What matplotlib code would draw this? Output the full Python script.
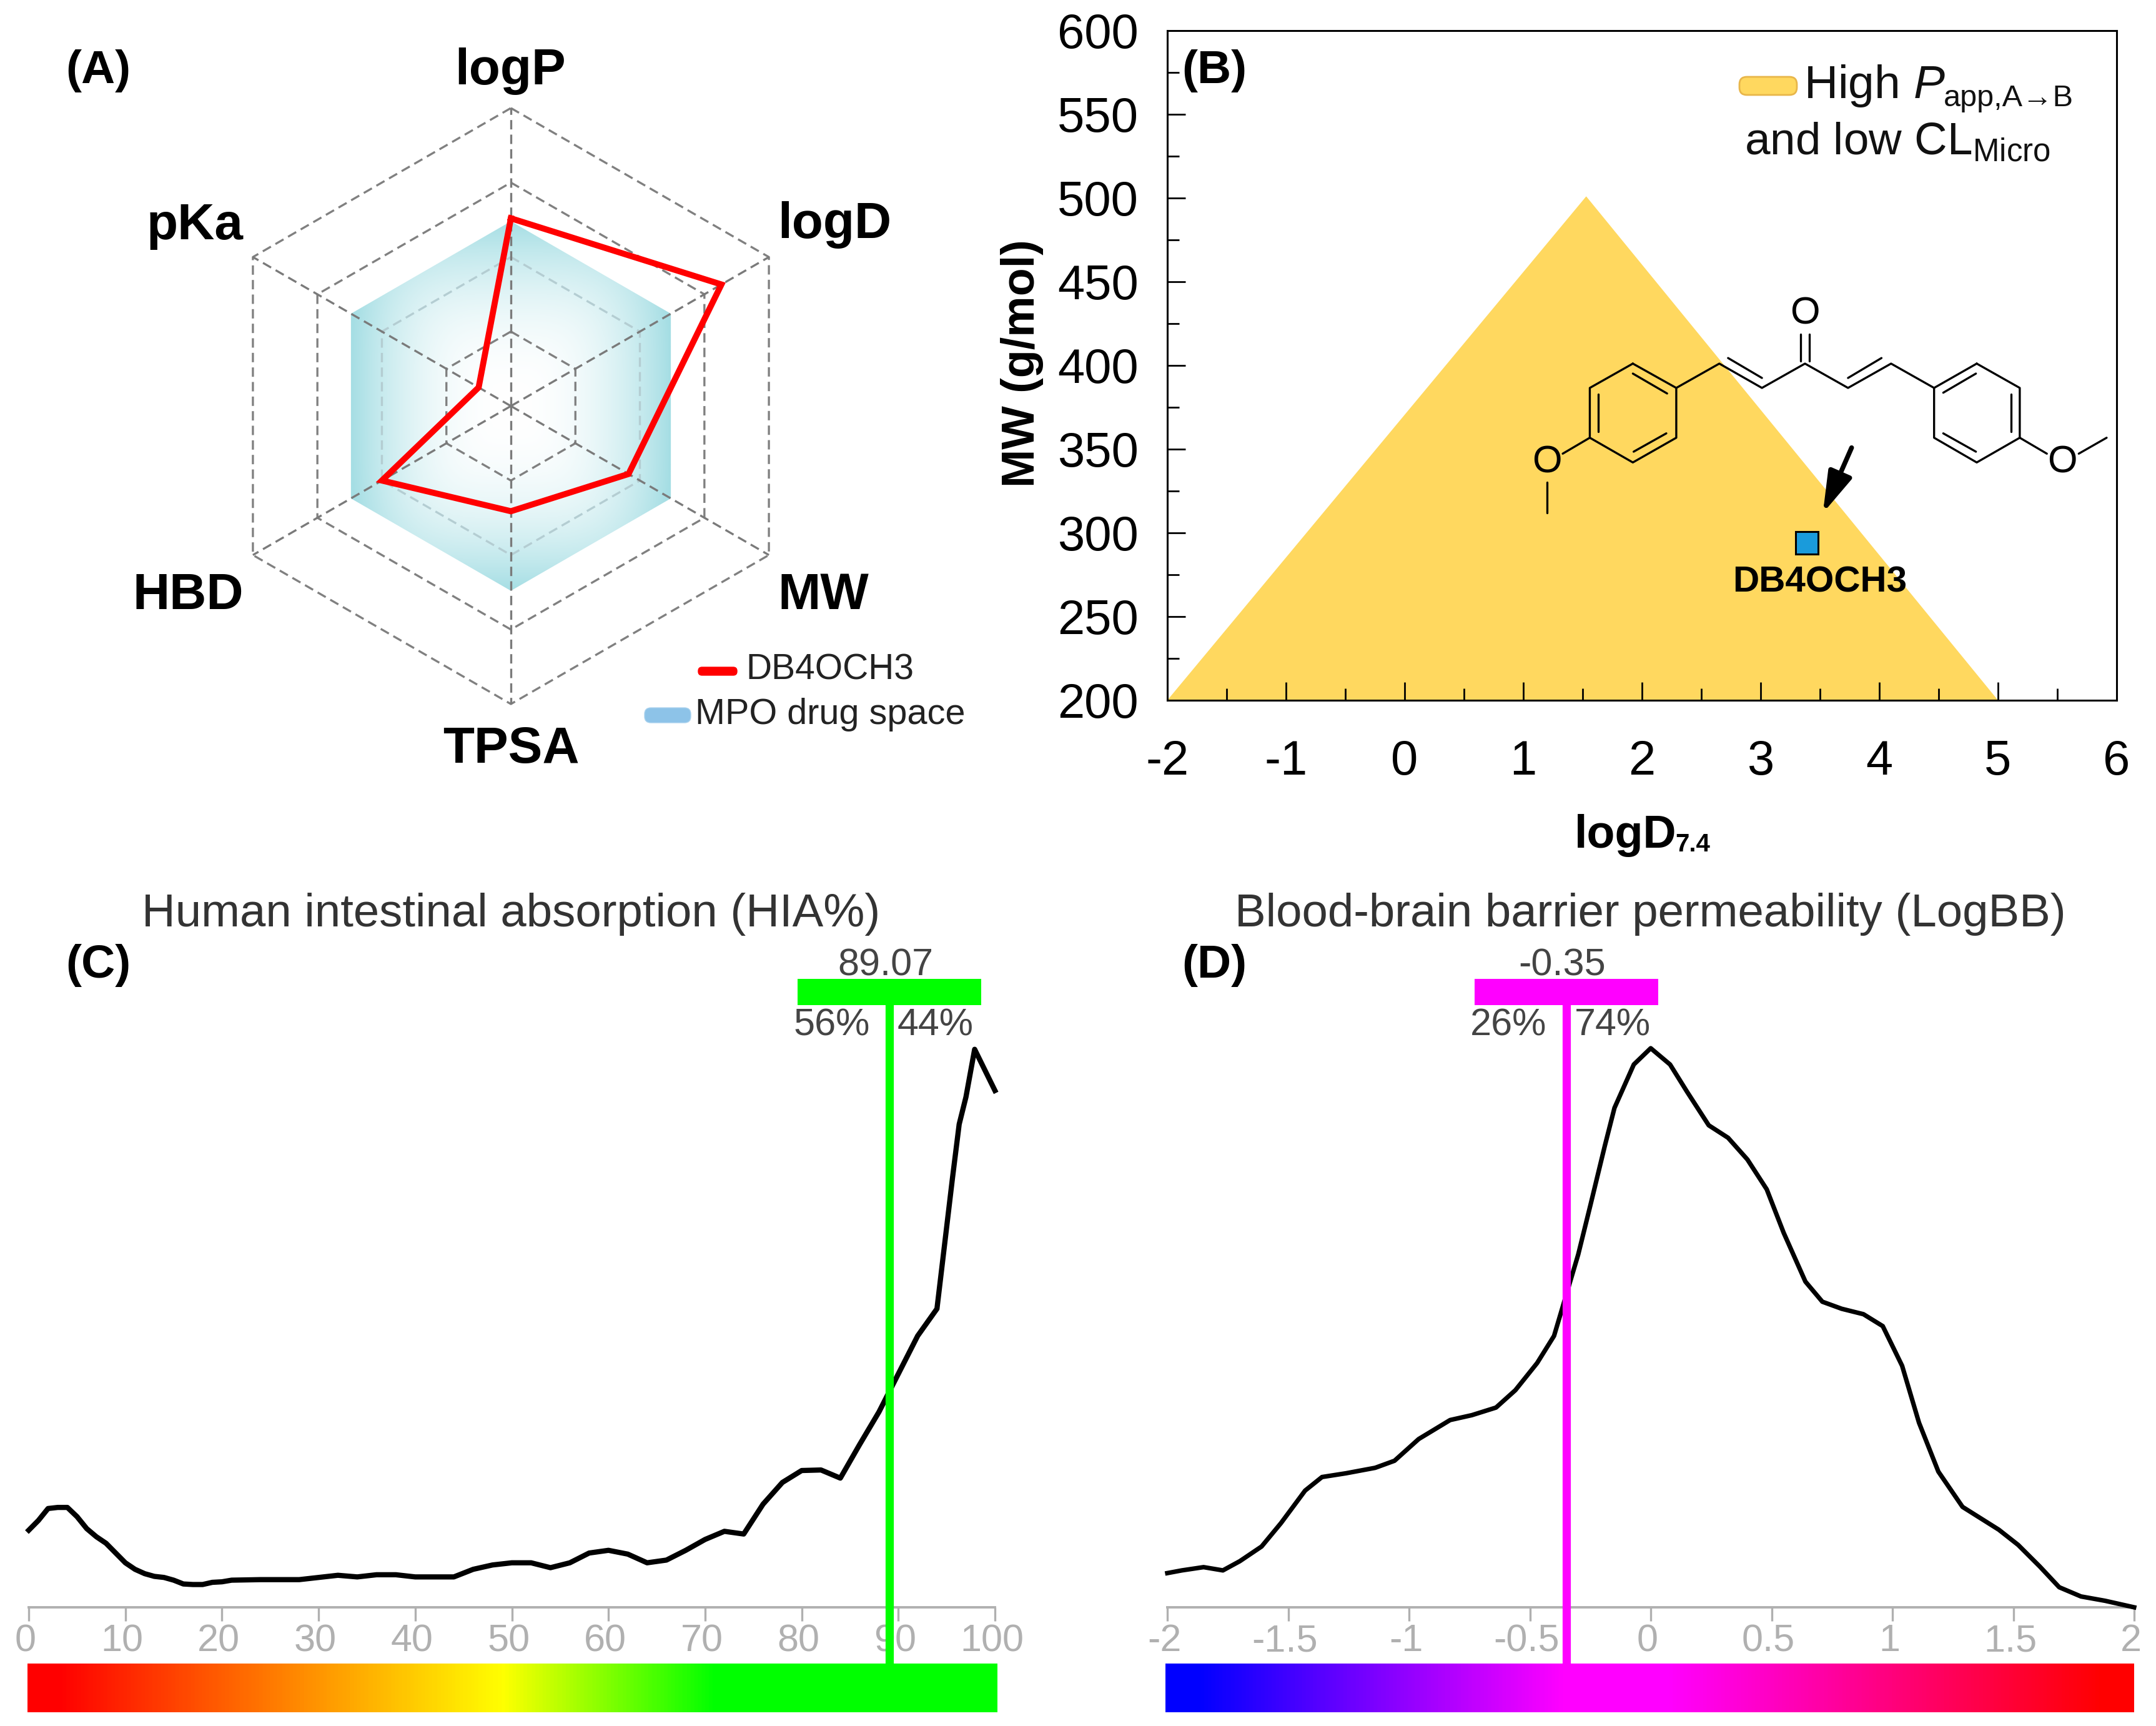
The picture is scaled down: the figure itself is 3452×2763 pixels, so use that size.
import numpy as np
import matplotlib
matplotlib.use('Agg')
import matplotlib.pyplot as plt
from matplotlib.colors import LinearSegmentedColormap
from matplotlib.patches import Polygon, FancyBboxPatch, Rectangle
from matplotlib.transforms import blended_transform_factory, ScaledTranslation

plt.rcParams['font.family'] = ['Liberation Sans', 'DejaVu Sans']
plt.rcParams['mathtext.fontset'] = 'custom'
plt.rcParams['mathtext.rm'] = 'Liberation Sans'
plt.rcParams['mathtext.it'] = 'Liberation Sans:italic'
plt.rcParams['mathtext.bf'] = 'Liberation Sans:bold'
plt.rcParams['axes.unicode_minus'] = False

W, H = 3452, 2763

# (A) radar
radar_labels = ['logP', 'logD', 'MW', 'TPSA', 'HBD', 'pKa']
radar_rings = [0.25, 0.5, 0.75, 1.0]
db4och3_values = [0.63, 0.816, 0.456, 0.353, 0.5, 0.125]
mpo_space_values = [0.62, 0.62, 0.62, 0.62, 0.62, 0.62]

# (B) permeability / clearance space
space_logd = [-2, 1.53, 5]
space_mw = [200, 501, 200]
compound_logd = 3.39
compound_mw = 294

# (C) HIA%
hia_x = [0, 1, 2, 3, 4, 5, 6, 7, 8, 9, 10, 11, 12, 13, 14, 15, 16, 17, 18, 19, 20, 21, 24, 28, 30,
         32, 34, 36, 38, 40, 44, 46, 48, 50, 52, 54, 56, 58, 60, 62, 64, 66, 68, 70, 72, 74, 76,
         78, 80, 82, 84, 86, 88, 90, 92, 94, 94.4, 95.6, 96.3, 97, 97.9, 100]
hia_y = [14.2, 16, 18.2, 18.4, 18.4, 16.7, 14.5, 13, 11.8, 10, 8.2, 7, 6.2, 5.7, 5.5, 5, 4.3, 4.2,
         4.2, 4.6, 4.7, 5, 5.1, 5.1, 5.5, 5.9, 5.6, 6, 6, 5.6, 5.6, 7, 7.8, 8.2, 8.2, 7.3, 8.2, 10,
         10.5, 9.8, 8.2, 8.7, 10.5, 12.5, 14, 13.5, 19, 23, 25.2, 25.3, 23.8, 30, 36, 43, 50, 55,
         61, 79, 89, 94, 102.8, 95.2]
hia_ticks = [0, 10, 20, 30, 40, 50, 60, 70, 80, 90, 100]
hia_value = 89.07
hia_split = ['56%', '44%']
hia_stops = [(0.0, '#ff0000'), (0.03, '#ff0000'), (0.49, '#ffff00'), (0.71, '#00ff00'), (1.0, '#00ff00')]

# (D) LogBB
bbb_x = [-2.0, -1.94, -1.85, -1.77, -1.70, -1.61, -1.53, -1.43, -1.36, -1.26, -1.14, -1.06, -0.96,
         -0.83, -0.74, -0.64, -0.56, -0.47, -0.40, -0.36, -0.30, -0.25, -0.19, -0.15, -0.07, 0.0,
         0.08, 0.15, 0.24, 0.32, 0.40, 0.48, 0.55, 0.64, 0.71, 0.79, 0.88, 0.96, 1.04, 1.11, 1.19,
         1.29, 1.44, 1.52, 1.61, 1.69, 1.78, 1.88, 2.0]
bbb_y = [6.3, 6.8, 7.4, 6.8, 8.5, 11.2, 15.5, 21.5, 24, 24.7, 25.7, 27, 31, 34.5, 35.4, 36.8, 40,
         45, 50, 56, 65, 74, 85, 92, 100, 103, 100, 95, 88.8, 86.5, 82.5, 77, 69, 60, 56.3, 55, 54,
         51.8, 44.5, 34, 25, 18.5, 14.3, 11.5, 7.5, 3.7, 2, 1.2, 0]
bbb_ticks = [-2, -1.5, -1, -0.5, 0, 0.5, 1, 1.5, 2]
bbb_ticklabels = ['-2', '-1.5', '-1', '-0.5', '0', '0.5', '1', '1.5', '2']
bbb_value = -0.35
bbb_split = ['26%', '74%']
bbb_stops = [(0.0, '#0000ff'), (0.03, '#0000ff'), (0.41, '#ff00ff'), (0.52, '#ff00ff'), (0.97, '#ff0000'), (1.0, '#ff0000')]

# molecule sketch, in zoomed picture units (see mol_xy)
mol_bonds = [
    [(336, 207), (445, 268), (445, 393), (336, 455), (228, 393), (228, 268), (336, 207)],
    [(336, 232), (422, 282)], [(338, 428), (420, 382)], [(249, 283), (249, 378)],
    [(445, 268), (553, 207), (660, 268), (768, 207), (876, 268), (984, 207), (1092, 268)],
    [(575, 193), (660, 243)], [(876, 243), (960, 193)],
    [(757, 200), (757, 133)], [(779, 200), (779, 133)],
    [(1199, 207), (1307, 268), (1307, 393), (1199, 455), (1092, 393), (1092, 268), (1199, 207)],
    [(1115, 280), (1197, 232)], [(1115, 382), (1197, 428)], [(1285, 283), (1285, 378)],
    [(228, 393), (160, 433)], [(120, 505), (120, 581)],
    [(1307, 393), (1375, 433)], [(1455, 433), (1525, 393)],
]
mol_oxygens = [(768, 83), (120, 456), (1413, 456)]


def px_axes(fig, x0, y0, x1, y1, **kw):
    return fig.add_axes([x0 / W, 1 - y1 / H, (x1 - x0) / W, (y1 - y0) / H], **kw)


def mol_xy(p):
    return 2400 + 0.638 * p[0], 450 + 0.638 * p[1]


fig = plt.figure(figsize=(W / 100, H / 100), dpi=100, facecolor='white')

ov = fig.add_axes([0, 0, 1, 1], zorder=10)
ov.set_xlim(0, W)
ov.set_ylim(H, 0)
ov.axis('off')
ov.patch.set_alpha(0)

# ---- panel A
cx, cy, rad = 818, 650, 477
ax_a = px_axes(fig, cx - 500, cy - 500, cx + 500, cy + 500)
ax_a.axis('off')
theta = np.deg2rad(np.arange(6) * 60)


def radar_xy(vals):
    vals = np.asarray(vals, dtype=float)
    xs = vals * np.sin(theta)
    ys = vals * np.cos(theta)
    return np.append(xs, xs[0]), np.append(ys, ys[0])


mx, my = radar_xy(mpo_space_values)
gx, gy = np.meshgrid(np.linspace(-0.66, 0.66, 500), np.linspace(-0.66, 0.66, 500))
xmax = max(mx)
ymax = max(my)
t = (np.abs(gx / xmax) ** 4 + np.abs(gy / ymax) ** 4) ** 0.25
t = np.clip(t, 0, 1) ** 2.2
teal = np.array([165, 222, 228]) / 255
rgb = 1 + t[..., None] * (teal - 1)
im = ax_a.imshow(rgb, extent=[-0.66, 0.66, -0.66, 0.66], origin='lower', zorder=1)
clip = Polygon(np.column_stack([mx, my]), transform=ax_a.transData, facecolor='none', edgecolor='none')
ax_a.add_patch(clip)
im.set_clip_path(clip)
ax_a.set_aspect('equal')
ax_a.set_xlim(-500 / rad, 500 / rad)
ax_a.set_ylim(-500 / rad, 500 / rad)

for ring in radar_rings:
    rx, ry = radar_xy([ring] * 6)
    col = '#b4cdd2' if ring == 0.5 else '#808080'
    ax_a.plot(rx, ry, color=col, lw=2.4, ls=(0, (4.5, 2.5)), zorder=2)
for th in theta:
    ax_a.plot([0, np.sin(th)], [0, np.cos(th)], color='#7a7a7a', lw=2.4, ls=(0, (4.5, 2.5)), zorder=2)
rx, ry = radar_xy(db4och3_values)
ax_a.plot(rx, ry, color='#ff0000', lw=7, solid_joinstyle='miter', zorder=3)

radar_pos = [(817, 114, 'center'), (1245, 360, 'left'), (1245, 954, 'left'),
             (818, 1200, 'center'), (390, 954, 'right'), (390, 362, 'right')]
for lab, (x, y, ha) in zip(radar_labels, radar_pos):
    ov.text(x, y, lab, fontsize=59, fontweight='bold', ha=ha, va='center')

ov.add_patch(FancyBboxPatch((1118, 1068), 62, 13, boxstyle='round,pad=0,rounding_size=6',
                            facecolor='#ff0000', edgecolor='#ff0000', lw=1))
ov.text(1194, 1073, 'DB4OCH3', fontsize=41, ha='left', va='center', color='#222222')
ov.add_patch(FancyBboxPatch((1032, 1133), 74, 24, boxstyle='round,pad=0,rounding_size=10',
                            facecolor='#8dc3e8', edgecolor='#a9d2ee', lw=1))
ov.text(1113, 1144, 'MPO drug space', fontsize=41.5, ha='left', va='center', color='#222222')

# ---- panel B
ax_b = px_axes(fig, 1869, 49, 3389, 1121)
ax_b.fill(space_logd, space_mw, color='#ffd85f', lw=0, zorder=1)
ax_b.plot([compound_logd], [compound_mw], marker='s', ms=26, mfc='#1a9bdb', mec='black', mew=2.2, zorder=4)
ax_b.set_xlim(-2, 6)
ax_b.set_ylim(200, 600)
ax_b.set_xticks(np.arange(-2, 7, 1))
ax_b.set_xticks(np.arange(-2, 6.5, 0.5), minor=True)
ax_b.set_yticks(np.arange(200, 601, 50))
ax_b.set_yticks(np.arange(200, 601, 25), minor=True)
ax_b.tick_params(axis='both', which='major', direction='in', length=21, width=2, labelsize=56, top=False, right=False)
ax_b.tick_params(axis='both', which='minor', direction='in', length=14, width=2, top=False, right=False)
ax_b.tick_params(axis='x', which='major', pad=45)
ax_b.tick_params(axis='y', which='major', pad=33)
for sp in ax_b.spines.values():
    sp.set_linewidth(2.2)
    sp.set_zorder(5)

ov.text(1636, 582, 'MW (g/mol)', fontsize=53, fontweight='bold', rotation=90, ha='center', va='center')
ov.text(2521, 1338, 'logD', fontsize=53, fontweight='bold', ha='left', va='center')
ov.text(2682, 1352, '7.4', fontsize=29, fontweight='bold', ha='left', va='center')
ov.add_patch(FancyBboxPatch((2785, 123), 92, 29, boxstyle='round,pad=0,rounding_size=12',
                            facecolor='#ffd85f', edgecolor='#e8b64a', lw=2))
ov.text(2888, 138, r'High $\mathit{P}$', fontsize=54, ha='left', va='center', color='#111111')
ov.text(3112, 157, 'app,A→B', fontsize=35, ha='left', va='center', color='#111111')
ov.text(2793, 228, r'and low CL$_{\mathrm{Micro}}$', fontsize=52.5, ha='left', va='center', color='#111111')
ov.text(2914, 932, 'DB4OCH3', fontsize=42, fontweight='bold', ha='center', va='center')

for seg in mol_bonds:
    pts = np.array([mol_xy(p) for p in seg])
    ov.plot(pts[:, 0], pts[:, 1], color='black', lw=2.4, solid_capstyle='round')
for p in mol_oxygens:
    ox, oy = mol_xy(p)
    ov.text(ox, oy, 'O', fontsize=44, ha='center', va='center', color='black')
ov.annotate('', xy=mol_xy((813, 582)), xytext=mol_xy((885, 418)),
            arrowprops=dict(arrowstyle='-|>,head_length=1.0,head_width=0.3', mutation_scale=40,
                            lw=5.5, color='black', shrinkA=0, shrinkB=0))


# ---- panels C and D
def density_panel(x0, x1, bar, xs, ys, ticks, labels, value, split, stops, color, title, title_x, val_label, line_w):
    ax = px_axes(fig, x0, 1678, x1, 2573)
    ax.plot(xs, ys, color='black', lw=line_w, clip_on=False, zorder=3)
    ax.set_xlim(ticks[0], ticks[-1])
    ax.set_ylim(0, 103)
    ax.set_yticks([])
    ax.set_xticks(ticks)
    ax.set_xticklabels(labels)
    ax.tick_params(axis='x', direction='out', length=16, width=2.4, color='#b0b0b0',
                   labelcolor='#b0b0b0', labelsize=44, pad=3)
    shift = ScaledTranslation(-5 / 100, 0, fig.dpi_scale_trans)
    for tl in ax.get_xticklabels():
        tl.set_transform(tl.get_transform() + shift)
    for name in ['left', 'right', 'top']:
        ax.spines[name].set_visible(False)
    ax.spines['bottom'].set_color('#b0b0b0')
    ax.spines['bottom'].set_linewidth(2.8)
    ax.patch.set_alpha(0)

    cax = px_axes(fig, bar[0], 2663, bar[1], 2741)
    cmap = LinearSegmentedColormap.from_list('grad', stops)
    cax.imshow(np.linspace(0, 1, 800)[None, :], aspect='auto', cmap=cmap, vmin=0, vmax=1)
    cax.axis('off')

    tr = blended_transform_factory(ax.transData, ov.transData)
    ov.plot([value, value], [1600, 2663], transform=tr, color=color, lw=9.5, solid_capstyle='butt', zorder=5)
    half = 147 / (x1 - x0) * (ticks[-1] - ticks[0])
    ov.add_patch(Rectangle((value - half, 1567), 2 * half, 42, transform=tr, facecolor=color, edgecolor='none', zorder=5))
    xp = ax.transData.transform((value, 0))[0]
    ov.text(xp - 6, 1546, val_label, fontsize=44, ha='center', va='center', color='#444444')
    ov.text(xp - 92, 1642, split[0], fontsize=44, ha='center', va='center', color='#444444')
    ov.text(xp + 74, 1642, split[1], fontsize=44, ha='center', va='center', color='#444444')
    ov.text(title_x, 1463, title, fontsize=53.6, ha='center', va='center', color='#333333')


density_panel(46, 1593, (44, 1596), hia_x, hia_y, hia_ticks, [str(v) for v in hia_ticks], hia_value,
              hia_split, hia_stops, '#00ff00', 'Human intestinal absorption (HIA%)', 818, '89.07', 6)
density_panel(1869, 3417, (1866, 3416), bbb_x, bbb_y, bbb_ticks, bbb_ticklabels, bbb_value,
              bbb_split, bbb_stops, '#ff00ff', 'Blood-brain barrier permeability (LogBB)', 2642, '-0.35', 5.2)

for lab, x, y in [('(A)', 157, 114), ('(B)', 1944, 114), ('(C)', 157, 1545), ('(D)', 1944, 1545)]:
    ov.text(x, y, lab, fontsize=54, fontweight='bold', ha='center', va='center')

fig.savefig('out.png', dpi=100)
